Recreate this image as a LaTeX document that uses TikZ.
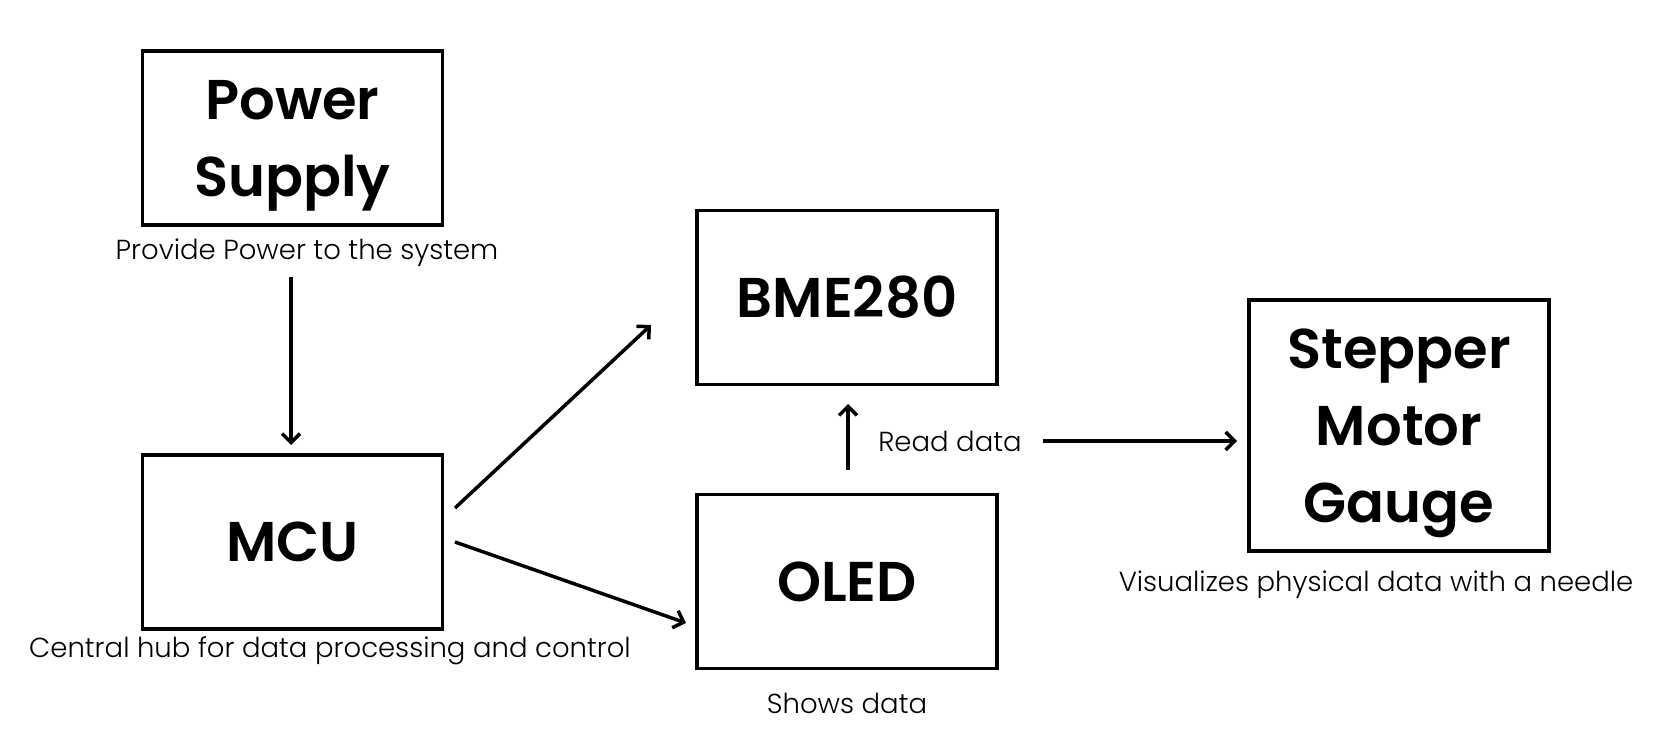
\documentclass[tikz,border=0pt]{standalone}
\usepackage{fontspec}
\setmainfont{Poppins}
\newfontfamily\lightfont{Poppins Light}
\newfontfamily\titlefont{Poppins SemiBold}
\usetikzlibrary{arrows.meta}
\begin{document}
\begin{tikzpicture}[x=1pt,y=-1pt,
  block/.style={draw,line width=3.5pt,minimum width=300pt,minimum height=174pt,inner sep=0pt,align=center,font=\fontsize{56}{77}\selectfont\titlefont},
  desc/.style={inner sep=0pt,font=\fontsize{27.5}{30}\selectfont\lightfont},
  conn/.style={line width=3.5pt,-{Straight Barb[length=9pt,width=18pt,line width=3.5pt]}}]
\useasboundingbox[fill=white] (0,0) rectangle (1660,754);
\node[block] (ps) at (292.5,138) {Power\\\smash{Supply}};
\node[block] (mcu) at (292.5,542) {MCU};
\node[block] (bme) at (847,297.5) {BME280};
\node[block] (oled) at (847,581.5) {OLED};
\node[block,minimum height=251pt] (sm) at (1399,425.5) {Stepper\\Motor\\\smash{Gauge}};
\node[desc] (psd) at (307,253) {Provide Power to the system};
\node[desc] (mcud) at (330,651) {Central hub for data processing and control};
\node[desc] (oledd) at (847,703) {Shows data};
\node[desc] (rd) at (950,441) {Read data};
\node[desc] (smd) at (1376,585) {Visualizes physical data with a needle};
\coordinate (a1) at (291,277); \coordinate (a2) at (291,445);
\coordinate (b1) at (455,508); \coordinate (b2) at (651,325);
\coordinate (c1) at (455,542); \coordinate (c2) at (686,623);
\coordinate (d1) at (848,470); \coordinate (d2) at (848,404);
\coordinate (e1) at (1043,441); \coordinate (e2) at (1237,441);
\draw[conn] (a1) -- (a2);
\draw[conn] (b1) -- (b2);
\draw[conn] (c1) -- (c2);
\draw[conn] (d1) -- (d2);
\draw[conn] (e1) -- (e2);
\end{tikzpicture}
\end{document}
